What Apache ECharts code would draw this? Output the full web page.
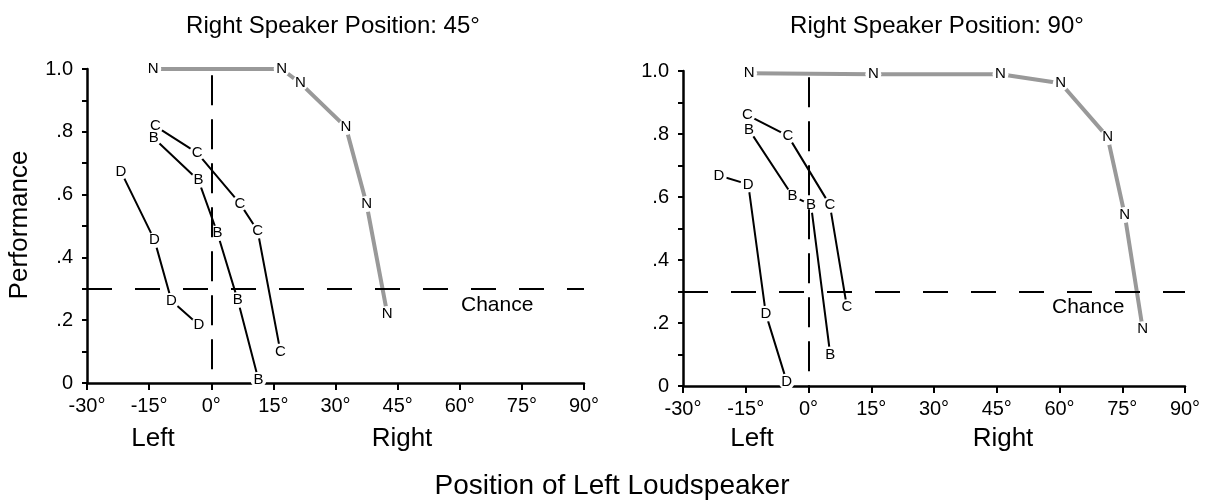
<!DOCTYPE html>
<html>
<head>
<meta charset="utf-8">
<script src="https://cdn.jsdelivr.net/npm/echarts@6/dist/echarts.min.js"></script>
<style>
  html, body { margin: 0; padding: 0; background: #fff; }
  #chart { width: 1224px; height: 501px; }
</style>
</head>
<body>
<div id="chart"></div>
<script>
// x ticks (degrees) and y ticks
const xTicks = [-30, -15, 0, 15, 30, 45, 60, 75, 90];
const yTicks = [0, 0.2, 0.4, 0.6, 0.8, 1.0];
const chanceLevel = 0.3;

// Right speaker at 45 deg
const r45_N_deg = [-14, 17, 21.5, 32.5, 37.5, 42.5];
const r45_N_perf = [1.0, 1.0, 0.955, 0.815, 0.57, 0.22];
const r45_C_deg = [-13.5, -3.4, 6.9, 11.2, 16.7];
const r45_C_perf = [0.818, 0.733, 0.572, 0.485, 0.10];
const r45_B_deg = [-13.9, -3.1, 1.5, 6.4, 11.4];
const r45_B_perf = [0.78, 0.646, 0.477, 0.264, 0.01];
const r45_D_deg = [-21.8, -13.7, -9.6, -3.0];
const r45_D_perf = [0.673, 0.455, 0.262, 0.185];

// Right speaker at 90 deg
const r90_N_deg = [-14.2, 15.5, 45.9, 60.3, 71.5, 75.6, 79.9];
const r90_N_perf = [0.993, 0.99, 0.99, 0.961, 0.79, 0.543, 0.18];
const r90_C_deg = [-14.6, -4.9, 5.1, 9.2];
const r90_C_perf = [0.86, 0.794, 0.575, 0.25];
const r90_B_deg = [-14.2, -3.8, 0.6, 5.2];
const r90_B_perf = [0.813, 0.603, 0.575, 0.10];
const r90_D_deg = [-21.4, -14.4, -10.2, -5.2];
const r90_D_perf = [0.668, 0.64, 0.229, 0.014];

const FONT = 'Liberation Sans, Arial, Helvetica, sans-serif';

function pairs(xs, ys) {
  return xs.map((x, i) => [x, ys[i]]);
}

function letterSeries(letter, xs, ys, idx) {
  const isN = letter === 'N';
  return {
    type: 'line',
    name: letter + idx,
    xAxisIndex: idx,
    yAxisIndex: idx,
    data: pairs(xs, ys),
    symbol: 'circle',
    symbolSize: 16,
    itemStyle: { color: '#fff' },
    lineStyle: { color: isN ? '#999' : '#000', width: isN ? 4 : 2 },
    label: {
      show: true, position: 'inside', formatter: letter,
      fontSize: 15, color: '#000', fontFamily: FONT
    },
    emphasis: { disabled: true },
    z: isN ? 3 : 4
  };
}

function refLines(idx) {
  return {
    type: 'line',
    xAxisIndex: idx,
    yAxisIndex: idx,
    data: [],
    silent: true,
    markLine: {
      silent: true,
      symbol: 'none',
      label: { show: false },
      data: [
        { yAxis: chanceLevel, lineStyle: { color: '#000', width: 2, type: [25, 23] } },
        [
          { coord: [0, 0.98], lineStyle: { color: '#000', width: 2, type: [30, 14] } },
          { coord: [0, 0] }
        ]
      ]
    }
  };
}

function yLabel(v) {
  if (v === 0) return '0';
  if (Math.abs(v - 1) < 1e-9) return '1.0';
  return v.toFixed(1).replace(/^0/, '');
}

function xAxisFor(idx) {
  return {
    type: 'value', gridIndex: idx,
    min: xTicks[0], max: xTicks[xTicks.length - 1], interval: 15,
    axisLine: { onZero: false, lineStyle: { color: '#000', width: 2.5 } },
    axisTick: { length: 7, lineStyle: { color: '#000', width: 2 } },
    axisLabel: { formatter: '{value}°', fontSize: 20, color: '#000', fontFamily: FONT, margin: 13 },
    splitLine: { show: false }
  };
}

function yAxisFor(idx) {
  return {
    type: 'value', gridIndex: idx,
    min: yTicks[0], max: yTicks[yTicks.length - 1], interval: 0.2,
    axisLine: { show: true, onZero: false, lineStyle: { color: '#000', width: 2.5 } },
    axisTick: { show: true, length: 5, lineStyle: { color: '#000', width: 2 } },
    minorTick: { show: true, splitNumber: 2, length: 5, lineStyle: { color: '#000', width: 2 } },
    axisLabel: { formatter: yLabel, fontSize: 20, color: '#000', fontFamily: FONT, margin: 14 },
    splitLine: { show: false }
  };
}

const chart = echarts.init(document.getElementById('chart'));

const titleStyle = { fontSize: 24, fontWeight: 'normal', color: '#000', fontFamily: FONT };
const textStyle = (size) => ({ fill: '#000', fontSize: size, fontFamily: FONT });

const option = {
  animation: false,
  backgroundColor: '#fff',
  title: [
    { text: 'Right Speaker Position: 45°', left: 328, top: 9, textAlign: 'center', textStyle: titleStyle },
    { text: 'Right Speaker Position: 90°', left: 932, top: 9, textAlign: 'center', textStyle: titleStyle }
  ],
  grid: [
    { left: 87, top: 69, width: 497, height: 314 },
    { left: 683, top: 71, width: 502, height: 315 }
  ],
  xAxis: [xAxisFor(0), xAxisFor(1)],
  yAxis: [yAxisFor(0), yAxisFor(1)],
  series: [
    refLines(0),
    letterSeries('N', r45_N_deg, r45_N_perf, 0),
    letterSeries('C', r45_C_deg, r45_C_perf, 0),
    letterSeries('B', r45_B_deg, r45_B_perf, 0),
    letterSeries('D', r45_D_deg, r45_D_perf, 0),
    refLines(1),
    letterSeries('N', r90_N_deg, r90_N_perf, 1),
    letterSeries('C', r90_C_deg, r90_C_perf, 1),
    letterSeries('B', r90_B_deg, r90_B_perf, 1),
    letterSeries('D', r90_D_deg, r90_D_perf, 1)
  ],
  graphic: [
    { type: 'text', x: 20, y: 225, rotation: Math.PI / 2,
      style: Object.assign(textStyle(26), { text: 'Performance', align: 'center', verticalAlign: 'middle' }) },
    { type: 'text', x: 153, y: 439, style: Object.assign(textStyle(26), { text: 'Left', align: 'center', verticalAlign: 'middle' }) },
    { type: 'text', x: 402, y: 439, style: Object.assign(textStyle(26), { text: 'Right', align: 'center', verticalAlign: 'middle' }) },
    { type: 'text', x: 752, y: 439, style: Object.assign(textStyle(26), { text: 'Left', align: 'center', verticalAlign: 'middle' }) },
    { type: 'text', x: 1003, y: 439, style: Object.assign(textStyle(26), { text: 'Right', align: 'center', verticalAlign: 'middle' }) },
    { type: 'text', x: 461, y: 305, style: Object.assign(textStyle(21), { text: 'Chance', align: 'left', verticalAlign: 'middle' }) },
    { type: 'text', x: 1052, y: 307, style: Object.assign(textStyle(21), { text: 'Chance', align: 'left', verticalAlign: 'middle' }) },
    { type: 'text', x: 612, y: 486, style: Object.assign(textStyle(28), { text: 'Position of Left Loudspeaker', align: 'center', verticalAlign: 'middle' }) }
  ]
};

chart.setOption(option);
</script>
</body>
</html>
